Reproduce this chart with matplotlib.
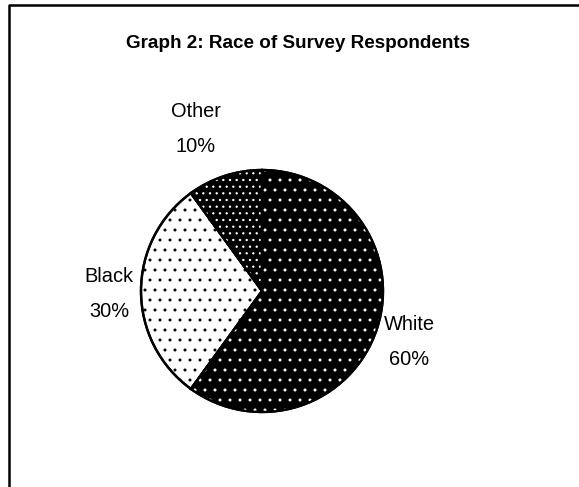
import numpy as np
import matplotlib
matplotlib.use("Agg")
from matplotlib import pyplot as plt
from matplotlib.patches import Wedge
from matplotlib.lines import Line2D

#
# Data
#
categories = ["White", "Black", "Other"]
shares = [60, 30, 10]          # [%]
title = "Graph 2: Race of Survey Respondents"

#
# Layout (pixel coordinates of a 579x487 image, y measured from the top)
#
W, H = 579, 487
dpi = 120
cx, cy, rad = 262, 291, 121
label_pos = [(409, 330), (109, 282), (196, 117)]   # baseline of first line
line_gap = 35

face = ["black", "white", "black"]
dots = ["white", "black", "white"]
hatches = ["..", "..", "..."]

plt.rcParams['font.family'] = ['Liberation Sans', 'DejaVu Sans']
plt.rcParams['hatch.linewidth'] = 0.6

fig = plt.figure(figsize=(W / dpi, H / dpi), dpi=dpi)
ax = fig.add_axes([0, 0, 1, 1])

wedges, _ = ax.pie(shares, center=(cx, H - cy), radius=rad, startangle=90,
                   counterclock=False, colors=face,
                   wedgeprops=dict(edgecolor="black", linewidth=1.4))

# dot texture on top of each slice
for w, col, hat in zip(wedges, dots, hatches):
    tex = Wedge(w.center, w.r, w.theta1, w.theta2, fill=False,
                hatch=hat, edgecolor=col, linewidth=0)
    ax.add_patch(tex)
# redraw the outline above the texture
for w in wedges:
    ax.add_patch(Wedge(w.center, w.r, w.theta1, w.theta2, fill=False,
                       edgecolor="black", linewidth=1.4))

ax.set_aspect('auto')
ax.set_xlim(0, W)
ax.set_ylim(0, H)
ax.axis('off')

# slice labels
for cat, val, (lx, ly) in zip(categories, shares, label_pos):
    ax.text(lx, H - ly, cat, ha="center", va="baseline", fontsize=12)
    ax.text(lx, H - ly - line_gap, "%d%%" % val, ha="center", va="baseline", fontsize=12)

ax.text(298, H - 48, title, ha="center", va="baseline", fontsize=11.3, fontweight="bold")

# chart frame (only left and top edges fall inside the picture)
fig.add_artist(Line2D([8.7 / W, 8.7 / W, 1.0], [0.0, 1 - 4.5 / H, 1 - 4.5 / H],
                      transform=fig.transFigure, color="black", linewidth=1.5))

fig.savefig("out.png", dpi=dpi)
